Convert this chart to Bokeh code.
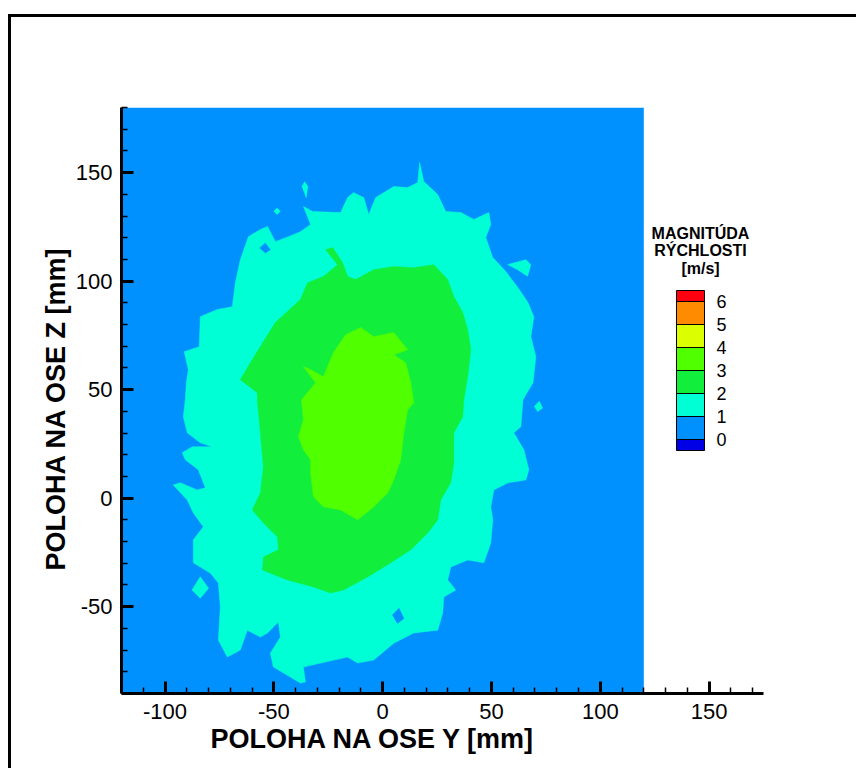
from bokeh.plotting import figure
from bokeh.models import (Range1d, SingleIntervalTicker, FixedTicker, ColorBar,
                          LinearColorMapper, Label, Title, PrintfTickFormatter)
from bokeh.embed import file_html
from bokeh.resources import INLINE

# Velocity-magnitude bands [m/s] and their fill colours (below 0, 0-1, ..., above 6)
LEVELS = [0, 1, 2, 3, 4, 5, 6]
band_colors = ["#0000E6", "#0091FF", "#00FFD5", "#12EE3C", "#50FF00", "#DCFF00", "#FF8C00", "#FF0010"]

# Measured cross-section (Y and Z positions in mm)
domain_y = [-120, 120]
domain_z = [-90, 180]

# Contour 1 m/s (region 1-2 m/s), outer boundary as (y, z) pairs
band_1_outline = [
    (-90.7, 45.3), (-90.2, 53.2), (-89.3, 59.2), (-91.2, 67.5), (-84.3, 69.8), (-83.8, 83.6),
    (-76.0, 86.9), (-69.1, 88.2), (-67.7, 99.3), (-65.4, 109.9), (-61.7, 120.5), (-56.2, 123.8),
    (-52.9, 125.2), (-49.3, 118.2), (-43.3, 120.5), (-37.8, 122.8), (-33.1, 126.1), (-36.4, 134.4),
    (-32.2, 132.1), (-19.3, 131.6), (-16.1, 138.5), (-13.4, 140.8), (-8.7, 138.5), (-6.4, 130.7),
    (-3.2, 138.5), (5.1, 143.6), (11.5, 143.1), (16.1, 145.4), (17.0, 154.7), (18.9, 145.9),
    (25.3, 139.9), (29.0, 132.1), (35.9, 131.6), (41.9, 128.4), (48.8, 131.6), (49.7, 126.1),
    (47.4, 120.1), (50.6, 110.9), (56.6, 104.4), (62.2, 97.0), (66.8, 90.1), (69.5, 83.6),
    (68.1, 74.4), (70.4, 65.2), (69.1, 53.2), (65.8, 47.7), (64.5, 45.3), (63.5, 32.9),
    (60.3, 30.1), (64.9, 22.3), (67.2, 13.1), (65.8, 8.4), (57.6, 7.1), (51.1, 3.8),
    (49.7, -4.0), (50.6, -10.0), (49.7, -20.6), (46.5, -29.8), (39.1, -28.5), (31.3, -31.7),
    (29.9, -37.7), (33.6, -42.3), (28.1, -45.5), (27.6, -52.9), (25.3, -60.8), (14.3, -62.1),
    (5.1, -66.8), (-4.1, -74.6), (-11.5, -76.0), (-16.1, -73.2), (-28.5, -76.0), (-36.4, -77.8),
    (-35.5, -84.7), (-37.8, -85.2), (-42.4, -82.4), (-50.2, -77.8), (-51.6, -71.4), (-47.0, -64.0),
    (-47.9, -57.1), (-52.9, -62.1), (-56.2, -64.0), (-62.2, -60.8), (-65.4, -70.0), (-71.4, -73.2),
    (-75.5, -65.4), (-74.6, -50.1), (-75.5, -39.1), (-79.2, -34.5), (-87.0, -29.8), (-87.0, -19.2),
    (-82.4, -13.2), (-87.0, -6.8), (-89.8, -0.8), (-96.2, 6.1), (-93.0, 7.1), (-85.2, 3.8),
    (-81.5, 4.8), (-84.7, 13.1), (-90.7, 17.7), (-92.1, 20.9), (-87.5, 23.7), (-78.3, 23.7),
    (-83.8, 25.5), (-89.8, 30.1), (-91.6, 37.5),
]

# Small detached 1-2 m/s islands
band_1_islands = [
    [(57.4, 107.6), (65.8, 109.9), (68.1, 107.6), (66.6, 102.2), (62.0, 105.3)],
    [(69.7, 42.3), (72.0, 44.6), (73.5, 41.5), (71.2, 39.9)],
    [(-37.0, 143.7), (-35.9, 145.8), (-34.4, 143.7), (-35.1, 138.4)],
    [(-87.6, -42.3), (-83.8, -36.2), (-80.0, -41.5), (-83.8, -46.1)],
    [(-50.0, 132.2), (-48.5, 133.7), (-47.0, 132.2), (-48.5, 130.7)],
]

# Pockets below 1 m/s enclosed by the 1-2 m/s band
band_0_pockets = [
    [(-56.5, 115.3), (-53.9, 117.6), (-51.6, 114.5), (-53.9, 113.0)],
    [(4.5, -53.8), (7.5, -50.7), (9.8, -55.4), (6.8, -57.7)],
]

# Contour 2 m/s (region 2-3 m/s)
band_2_outline = [
    (-65.4, 54.6), (-60.8, 62.4), (-49.3, 80.9), (-37.8, 91.5), (-34.5, 99.3), (-27.2, 102.1),
    (-20.7, 107.6), (-26.2, 114.5), (-23.0, 115.5), (-18.4, 108.5), (-16.1, 102.1), (-12.4, 100.7),
    (-4.1, 105.3), (5.1, 106.7), (14.3, 106.2), (23.5, 107.6), (29.9, 100.7), (32.7, 92.9),
    (36.8, 85.5), (39.1, 77.6), (40.5, 68.4), (39.1, 56.0), (37.3, 45.3), (36.8, 37.5),
    (32.7, 30.1), (32.7, 16.3), (31.3, 7.1), (26.7, -0.8), (25.3, -10.0), (20.7, -16.0),
    (12.9, -23.8), (3.7, -29.8), (-6.9, -36.3), (-18.0, -42.3), (-23.9, -43.7), (-31.8, -40.9),
    (-43.7, -37.7), (-55.2, -33.1), (-54.8, -27.1), (-47.9, -23.8), (-48.3, -17.9), (-54.8, -11.4),
    (-59.9, -5.4), (-56.2, 2.4), (-54.8, 14.4), (-56.2, 30.1), (-57.6, 45.3), (-57.6, 48.6),
]

# Contour 3 m/s (region 3-4 m/s)
band_3_outline = [
    (-17.0, 75.3), (-10.1, 78.6), (-4.1, 74.4), (5.1, 76.3), (11.5, 68.4), (5.1, 66.1),
    (10.6, 62.4), (12.9, 53.2), (14.3, 44.0), (11.5, 40.7), (9.7, 30.1), (8.3, 17.7),
    (5.1, 8.4), (2.3, 2.4), (-4.1, -4.0), (-11.5, -10.0), (-19.3, -5.4), (-27.2, -4.0),
    (-31.8, 0.6), (-33.1, 11.7), (-33.1, 17.7), (-36.4, 22.3), (-38.7, 28.3), (-36.4, 36.1),
    (-37.3, 45.3), (-30.8, 53.2), (-36.4, 60.6), (-33.1, 59.2), (-27.2, 56.0), (-22.6, 67.1),
]

AXIS_FONT = "Liberation Sans"


def split(polys):
    xs = [[pt[0] for pt in poly] for poly in polys]
    ys = [[pt[1] for pt in poly] for poly in polys]
    return xs, ys


p = figure(width=848, height=754,
           x_range=Range1d(-120, 175), y_range=Range1d(-90, 180),
           output_backend="svg", toolbar_location=None,
           min_border_left=110, min_border_right=96, min_border_top=90, min_border_bottom=78)
# page frame drawn as a border round the figure
p.margin = (14, 0, 0, 8)
p.styles = {"border-top": "3px solid black", "border-left": "3px solid black"}
p.grid.visible = False
p.outline_line_color = None
p.background_fill_color = "white"
p.border_fill_color = "white"

# Measured domain: everything below 1 m/s
p.quad(left=[domain_y[0]], right=[domain_y[1]], bottom=[domain_z[0]], top=[domain_z[1]],
       fill_color=band_colors[1], line_color=None)

# 1-2 m/s band
xs, ys = split([band_1_outline] + band_1_islands)
p.patches(xs, ys, fill_color=band_colors[2], line_color=band_colors[2], line_width=0.5)
xs, ys = split(band_0_pockets)
p.patches(xs, ys, fill_color=band_colors[1], line_color=band_colors[1], line_width=0.5)

# 2-3 m/s band
xs, ys = split([band_2_outline])
p.patches(xs, ys, fill_color=band_colors[3], line_color=band_colors[3], line_width=0.5)

# 3-4 m/s core
xs, ys = split([band_3_outline])
p.patches(xs, ys, fill_color=band_colors[4], line_color=band_colors[4], line_width=0.5)

# Axes
for ax in (p.xaxis[0], p.yaxis[0]):
    ax.ticker = SingleIntervalTicker(interval=50, num_minor_ticks=5)
    ax.formatter = PrintfTickFormatter(format="%d")
    ax.axis_line_width = 3
    ax.axis_line_color = "black"
    ax.major_tick_in = 12
    ax.major_tick_out = 0
    ax.major_tick_line_width = 3
    ax.major_tick_line_color = "black"
    ax.minor_tick_in = 6
    ax.minor_tick_out = 0
    ax.minor_tick_line_width = 1.5
    ax.minor_tick_line_color = "black"
    ax.major_label_text_font = AXIS_FONT
    ax.major_label_text_font_size = "22px"
    ax.major_label_text_color = "black"

p.xaxis.major_label_standoff = 10
p.yaxis.major_label_standoff = 9

# Axis titles, placed along the measured domain
p.add_layout(Title(text="POLOHA NA OSE Y [mm]", align="left", offset=89, standoff=0,
                   text_font=AXIS_FONT, text_font_size="27px", text_font_style="bold",
                   text_color="black"), "below")
p.add_layout(Title(text="POLOHA NA OSE Z [mm]", align="left", offset=123, standoff=4,
                   text_font=AXIS_FONT, text_font_size="27px", text_font_style="bold",
                   text_color="black"), "left")

# Colour legend
bar_palette = [band_colors[0]] + [c for c in band_colors[1:-1] for _ in range(2)] + [band_colors[-1]]
mapper = LinearColorMapper(palette=bar_palette, low=LEVELS[0] - 0.5, high=LEVELS[-1] + 0.5)
cbar = ColorBar(color_mapper=mapper, ticker=FixedTicker(ticks=LEVELS),
                width=28, height=160, location=(555, 243), padding=0, margin=0,
                major_tick_in=28, major_tick_out=0, major_tick_line_color="black",
                major_tick_line_width=1, minor_tick_line_color=None,
                bar_line_color="black", bar_line_width=1, label_standoff=12,
                major_label_text_font=AXIS_FONT, major_label_text_font_size="18px",
                major_label_text_color="black",
                background_fill_alpha=0, border_line_color=None)
p.add_layout(cbar)

for txt, yy in (("MAGNITÚDA", 460), ("RÝCHLOSTI", 443), ("[m/s]", 425.5)):
    p.add_layout(Label(x=579, y=yy, x_units="screen", y_units="screen", text=txt,
                       text_align="center", text_baseline="alphabetic",
                       text_font=AXIS_FONT, text_font_size="16px", text_font_style="bold",
                       text_color="black"))

open("out.html", "w").write(file_html(p, INLINE))
